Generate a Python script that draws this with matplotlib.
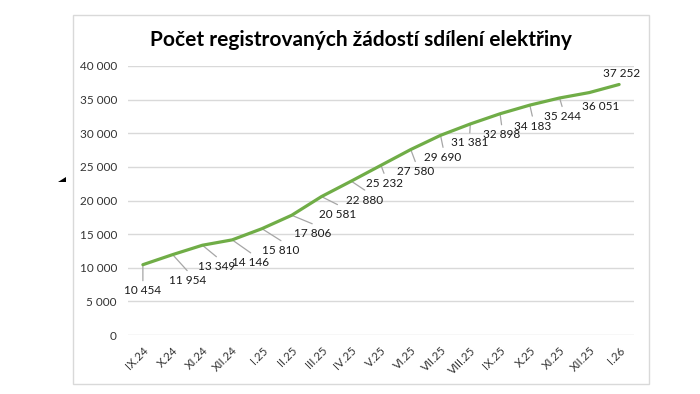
import matplotlib
matplotlib.use("Agg")
import matplotlib.pyplot as plt
from matplotlib.patches import Rectangle, Polygon

categories = ["IX.24", "X.24", "XI.24", "XII.24", "I.25", "II.25", "III.25", "IV.25",
              "V.25", "VI.25", "VII.25", "VIII.25", "IX.25", "X.25", "XI.25", "XII.25", "I.26"]
values = [10454, 11954, 13349, 14146, 15810, 17806, 20581, 22880,
          25232, 27580, 29690, 31381, 32898, 34183, 35244, 36051, 37252]
yticks = [0, 5000, 10000, 15000, 20000, 25000, 30000, 35000, 40000]
title = "Počet registrovaných žádostí sdílení elektřiny"

# label offsets in pixels (dx right, dy down), leader flag
label_offsets = [(0, 26), (14.5, 26), (14, 21.5), (18.5, 23), (19, 22), (20.5, 18.5),
                 (16, 18), (13.5, 19), (3, 18), (4.5, 22), (2.5, 22), (-0.5, 19),
                 (1.5, 21), (2.5, 21), (2.5, 18.5), (11, 14), (2, -11)]
leaders = [True] * 15 + [False, False]

W, H = 700, 394
fig = plt.figure(figsize=(7, 3.94), dpi=100)
FONT = ["Lato", "DejaVu Sans"]
plt.rcParams['font.family'] = FONT

def fx(px):
    return px / W

def fy(py):
    return 1 - py / H

# chart border
fig.patches.append(Rectangle((fx(73), fy(384)), fx(649) - fx(73), fy(15) - fy(384),
                             transform=fig.transFigure, fill=False,
                             edgecolor="#d9d9d9", lw=1))
# small triangle marker
fig.patches.append(Polygon([(fx(58.3), fy(182.3)), (fx(65.7), fy(182.3)), (fx(65.7), fy(176.7))],
                           closed=True, transform=fig.transFigure, facecolor="black",
                           edgecolor="none"))

ax = fig.add_axes([fx(128), fy(335), fx(634) - fx(128), fy(66) - fy(335)])
x = list(range(len(categories)))
ax.plot(x, values, color="#70ad47", lw=2.3, solid_capstyle="round", zorder=3)
ax.set_xlim(-0.5, len(categories) - 0.5)
ax.set_ylim(0, 40000)
ax.set_yticks(yticks)
ax.set_yticklabels([f"{v:,}".replace(",", " ") for v in yticks], fontsize=8.5, color="#333333")
ax.set_xticks(x)
ax.set_xticklabels(categories, rotation=45, ha="right", va="top", rotation_mode="anchor",
                   fontsize=8.3, color="#333333")
ax.tick_params(axis="y", length=0, pad=8)
ax.tick_params(axis="x", length=0, pad=7)
for s in ax.spines.values():
    s.set_visible(False)
ax.grid(axis="y", color="#d9d9d9", lw=1)
ax.set_axisbelow(True)

for i, (v, (dx, dy), ld) in enumerate(zip(values, label_offsets, leaders)):
    ax.annotate(f"{v:,}".replace(",", " "), xy=(i, v), xytext=(dx, -dy),
                textcoords="offset pixels", ha="center", va="center",
                fontsize=8.5, color="#1a1a1a", zorder=4)
    if ld:
        ax.annotate("", xy=(i, v), xytext=(dx, -dy + 10), textcoords="offset pixels",
                    arrowprops=dict(arrowstyle="-", color="#a6a6a6", lw=0.9,
                                    shrinkA=0, shrinkB=0), zorder=2)

fig.text(fx(360.5), fy(40), title, ha="center", va="center", fontsize=15,
         fontweight="bold", color="black")

fig.savefig("out.png", dpi=100)
